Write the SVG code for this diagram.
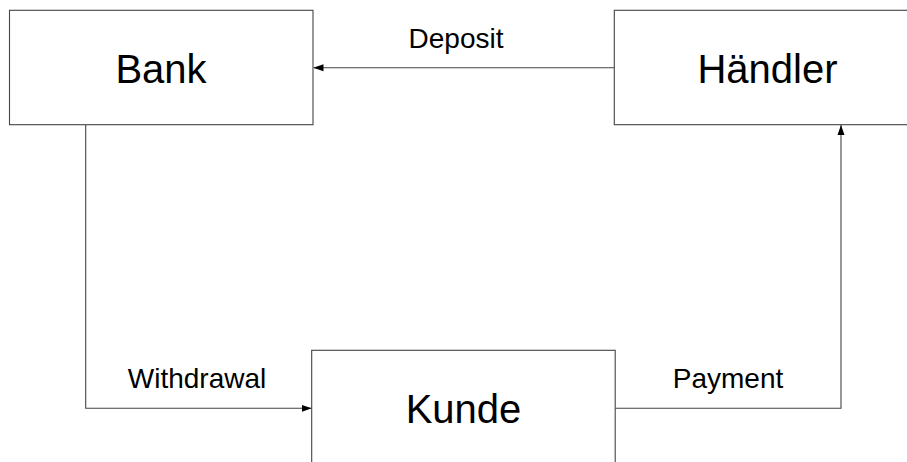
<svg xmlns="http://www.w3.org/2000/svg" width="907" height="462" viewBox="0 0 907 462">
  <style>
    .box { fill: #ffffff; stroke: #444444; stroke-width: 1.1; }
    .node-label { font-family: "Liberation Sans", Arial, sans-serif; font-size: 40px; fill: #000000; text-anchor: middle; }
    .edge { fill: none; stroke: #444444; stroke-width: 1.1; }
    .edge-label { font-family: "Liberation Sans", Arial, sans-serif; font-size: 28px; fill: #000000; text-anchor: middle; }
  </style>
  <defs>
    <marker id="arrow" viewBox="0 0 10 10" refX="10" refY="5" markerWidth="10" markerHeight="10" markerUnits="userSpaceOnUse" orient="auto">
      <path d="M0,1.5 L10,5 L0,8.5 Z" fill="#000000"/>
    </marker>
  </defs>
  <rect width="907" height="462" fill="#ffffff"/>

  <g id="connectors">
    <g id="edge-deposit">
      <path class="edge" d="M614.3,67.7 L313.5,67.7" marker-end="url(#arrow)"/>
      <text class="edge-label" x="456" y="48.3">Deposit</text>
    </g>
    <g id="edge-withdrawal">
      <path class="edge" d="M85.7,124.7 L85.7,408.3 L311.7,408.3" marker-end="url(#arrow)"/>
      <text class="edge-label" x="197" y="388.3">Withdrawal</text>
    </g>
    <g id="edge-payment">
      <path class="edge" d="M615.2,408.3 L841,408.3 L841,125" marker-end="url(#arrow)"/>
      <text class="edge-label" x="728" y="388.3">Payment</text>
    </g>
  </g>

  <g id="node-bank">
    <rect class="box" x="9.5" y="10.3" width="303.5" height="114.4"/>
    <text class="node-label" x="161" y="83.3">Bank</text>
  </g>
  <g id="node-haendler">
    <rect class="box" x="614.3" y="10.3" width="303.5" height="114.4"/>
    <text class="node-label" x="767.5" y="83.3">Händler</text>
  </g>
  <g id="node-kunde">
    <rect class="box" x="311.7" y="350.3" width="303.5" height="114.4"/>
    <text class="node-label" x="463.5" y="423.3">Kunde</text>
  </g>
</svg>
